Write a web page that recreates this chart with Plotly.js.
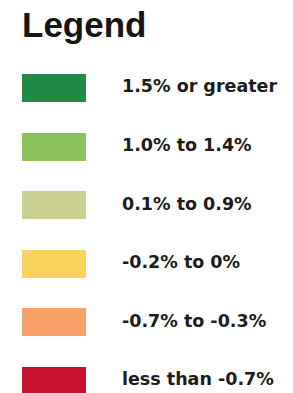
<!DOCTYPE html>
<html>
<head>
<meta charset="utf-8">
<script src="https://cdn.plot.ly/plotly-3.0.1.min.js"></script>
<style>html,body{margin:0;padding:0;background:#fff;}#chart{width:293px;height:393px;}</style>
</head>
<body>
<div id="chart"></div>
<script>
// Legend categories (top to bottom)
const categories = ["1.5% or greater", "1.0% to 1.4%", "0.1% to 0.9%", "-0.2% to 0%", "-0.7% to -0.3%", "less than -0.7%"];
const colors = ["#1f8b45", "#8bc35a", "#c9d08f", "#fad35e", "#f8a068", "#c8112d"];
const rowIndex = [0, 1, 2, 3, 4, 5];
const swatchLength = [64, 64, 64, 64, 64, 64];

const swatchStart = 22;
const labelStart = 122;
const titleFont = "Liberation Sans, Arial, sans-serif";
const labelFont = "DejaVu Sans, Liberation Sans, Arial, sans-serif";

const traces = [
  {
    type: "bar",
    orientation: "h",
    y: rowIndex,
    x: swatchLength,
    base: swatchStart,
    width: 0.48,
    marker: {color: colors, line: {width: 0}},
    hoverinfo: "skip",
    showlegend: false
  },
  {
    type: "scatter",
    mode: "text",
    y: rowIndex,
    x: rowIndex.map(() => labelStart),
    text: categories,
    textposition: "middle right",
    textfont: {family: labelFont, size: 17.5, color: "#1c1c1c", weight: "bold"},
    hoverinfo: "skip",
    showlegend: false
  }
];

const rowPx = 58.6, firstPx = 88, H = 393;
const layout = {
  width: 293,
  height: 393,
  margin: {l: 0, r: 0, t: 0, b: 0, pad: 0},
  paper_bgcolor: "#ffffff",
  plot_bgcolor: "#ffffff",
  title: {
    text: "<b>Legend</b>",
    font: {family: titleFont, size: 35, color: "#151515"},
    x: 22 / 293,
    xanchor: "left",
    xref: "paper",
    yref: "container",
    y: 1 - 25 / 393,
    yanchor: "middle"
  },
  xaxis: {range: [0, 293], visible: false, fixedrange: true},
  yaxis: {range: [(H - firstPx) / rowPx, -firstPx / rowPx], visible: false, fixedrange: true},
  bargap: 0
};

Plotly.newPlot("chart", traces, layout, {displayModeBar: false, staticPlot: true});
</script>
</body>
</html>
